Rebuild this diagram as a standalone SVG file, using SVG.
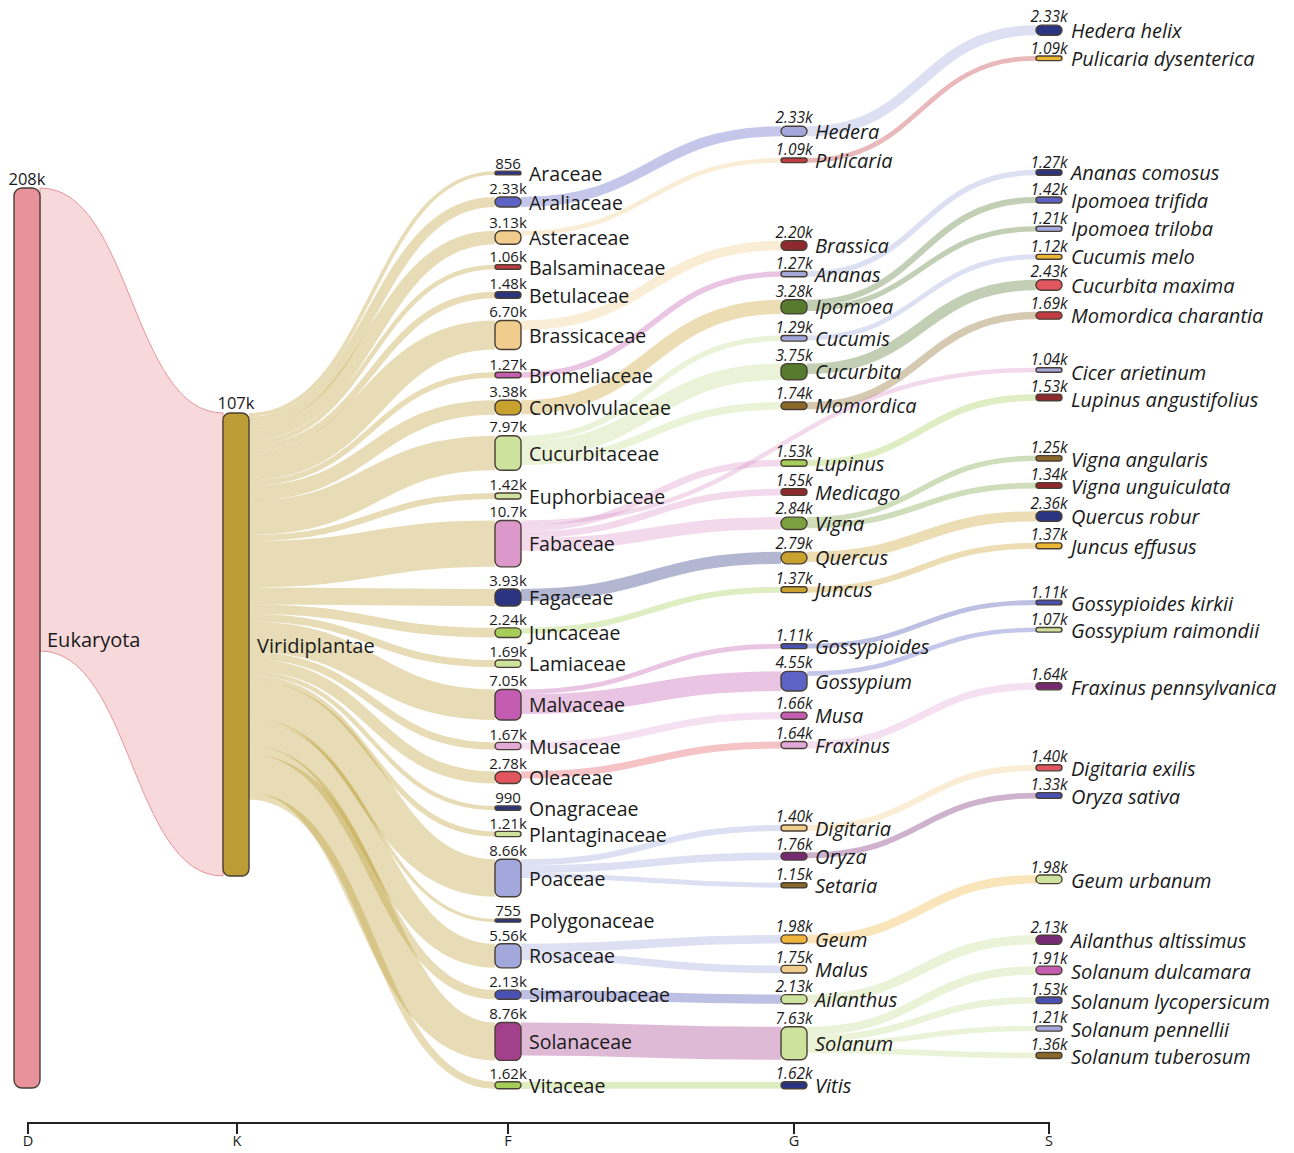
<svg xmlns="http://www.w3.org/2000/svg" width="1294" height="1153" viewBox="0 0 1294 1153">
<style>
text{font-family:"Open Sans","Noto Sans","Liberation Sans",sans-serif;fill:#1a1a1a}
.nd{stroke:#4a3f35;stroke-width:1.4}
.lk{fill:none;stroke-opacity:.36}
.lkf{fill-opacity:.35;stroke:none}
.val{font-size:15px;text-anchor:middle}
.vi{font-size:15.5px;font-style:italic;text-anchor:middle}
.nm{font-size:19.5px;dominant-baseline:central}
.ni{font-size:20px;font-style:italic;dominant-baseline:central}
.ax{stroke:#222;stroke-width:2;fill:none}
.axl{font-size:14.5px;text-anchor:middle}
.f-eu{fill:#e8939b}.s-eu{stroke:#e8939b;fill:#e8939b}
.f-vi{fill:#bd9e36}.s-vi{stroke:#bd9e36}
.f-navy{fill:#2b3480}.s-navy{stroke:#2b3480}
.f-blue{fill:#4851b2}.s-blue{stroke:#4851b2}
.f-mblue{fill:#5c63c4}.s-mblue{stroke:#5c63c4}
.f-lav{fill:#a2a8dc}.s-lav{stroke:#a2a8dc}
.f-tan{fill:#f0cd8c}.s-tan{stroke:#f0cd8c}
.f-red{fill:#c23a42}.s-red{stroke:#c23a42}
.f-lred{fill:#e2555f}.s-lred{stroke:#e2555f}
.f-dred{fill:#8e2a2e}
.f-mag{fill:#c45db2}.s-mag{stroke:#c45db2}
.f-gold{fill:#c9a12f}.s-gold{stroke:#c9a12f}
.f-ygold{fill:#e9b731}
.f-orange{fill:#f0b43c}.s-orange{stroke:#f0b43c}
.f-lgreen{fill:#cde29c}.s-lgreen{stroke:#c5dc90}
.f-green{fill:#a6cc5a}.s-green{stroke:#a6cc5a}
.f-mgreen{fill:#7aa040}.s-mgreen{stroke:#7aa040}
.f-dgreen{fill:#567a2e}.s-dgreen{stroke:#567a2e}
.f-pink{fill:#dc97cb}.s-pink{stroke:#dc97cb}
.f-lpink{fill:#e3a9d8}.s-lpink{stroke:#e3a9d8}
.f-purple{fill:#a3408c}.s-purple{stroke:#a3408c}
.f-dpurple{fill:#762a74}.s-dpurple{stroke:#762a74}
.f-brown{fill:#8a682a}.s-brown{stroke:#8a682a}
</style>

<g id="links">
<path class="lkf s-eu" d="M40,188 C131.5,188 131.5,413 223,413 L223,876 C131.5,876 131.5,651 40,651 Z"/>
<!-- K to F -->
<g class="lk s-vi">
<path stroke-width="3.7" d="M249,414.85 C372,414.85 372,173 495,173"/>
<path stroke-width="10.08" d="M249,421.75 C372,421.75 372,202 495,202"/>
<path stroke-width="13.54" d="M249,433.55 C372,433.55 372,237.5 495,237.5"/>
<path stroke-width="4.59" d="M249,442.6 C372,442.6 372,267 495,267"/>
<path stroke-width="6.4" d="M249,448.1 C372,448.1 372,295 495,295"/>
<path stroke-width="28.99" d="M249,465.8 C372,465.8 372,335 495,335"/>
<path stroke-width="5.5" d="M249,483.05 C372,483.05 372,375 495,375"/>
<path stroke-width="14.63" d="M249,493.1 C372,493.1 372,407.5 495,407.5"/>
<path stroke-width="34.49" d="M249,517.65 C372,517.65 372,453 495,453"/>
<path stroke-width="6.14" d="M249,538 C372,538 372,496 495,496"/>
<path stroke-width="46.3" d="M249,564.25 C372,564.25 372,543.7 495,543.7"/>
<path stroke-width="17" d="M249,595.9 C372,595.9 372,597.5 495,597.5"/>
<path stroke-width="9.69" d="M249,609.25 C372,609.25 372,632.7 495,632.7"/>
<path stroke-width="7.31" d="M249,617.75 C372,617.75 372,663.7 495,663.7"/>
<path stroke-width="30.51" d="M249,636.65 C372,636.65 372,704.7 495,704.7"/>
<path stroke-width="7.23" d="M249,655.5 C372,655.5 372,746 495,746"/>
<path stroke-width="12.03" d="M249,665.1 C372,665.1 372,777.5 495,777.5"/>
<path stroke-width="4.28" d="M249,673.25 C372,673.25 372,808 495,808"/>
<path stroke-width="5.24" d="M249,678.05 C372,678.05 372,834 495,834"/>
<path stroke-width="37.47" d="M249,699.4 C372,699.4 372,878 495,878"/>
<path stroke-width="3.27" d="M249,719.75 C372,719.75 372,920.5 495,920.5"/>
<path stroke-width="24.06" d="M249,733.45 C372,733.45 372,955.8 495,955.8"/>
<path stroke-width="9.22" d="M249,750.1 C372,750.1 372,994.7 495,994.7"/>
<path stroke-width="37.91" d="M249,773.65 C372,773.65 372,1041.5 495,1041.5"/>
<path stroke-width="7.01" d="M249,796.1 C372,796.1 372,1085.3 495,1085.3"/>
</g>
<!-- F to G -->
<path class="lk s-mblue" stroke-width="10.08" d="M521,202 C651,202 651,131.3 781,131.3"/>
<path class="lk s-tan" stroke-width="4.72" d="M521,233.09 C651,233.09 651,160.3 781,160.3"/>
<path class="lk s-tan" stroke-width="9.52" d="M521,325.26 C651,325.26 651,245.5 781,245.5"/>
<path class="lk s-mag" stroke-width="5.5" d="M521,375 C651,375 651,274 781,274"/>
<path class="lk s-gold" stroke-width="14.19" d="M521,407.3 C651,407.3 651,306.8 781,306.8"/>
<path class="lk s-lgreen" stroke-width="5.58" d="M521,438.54 C651,438.54 651,338.3 781,338.3"/>
<path class="lk s-lgreen" stroke-width="16.23" d="M521,449.45 C651,449.45 651,371.7 781,371.7"/>
<path class="lk s-lgreen" stroke-width="7.53" d="M521,461.33 C651,461.33 651,405.8 781,405.8"/>
<path class="lk s-pink" stroke-width="4.5" d="M521,522.8 C778.5,522.8 778.5,370 1036,370"/>
<path class="lk s-pink" stroke-width="6.62" d="M521,528.36 C651,528.36 651,463 781,463"/>
<path class="lk s-pink" stroke-width="6.71" d="M521,535.03 C651,535.03 651,492 781,492"/>
<path class="lk s-pink" stroke-width="12.29" d="M521,544.53 C651,544.53 651,523.3 781,523.3"/>
<path class="lk s-navy" stroke-width="12.07" d="M521,595.04 C651,595.04 651,557.8 781,557.8"/>
<path class="lk s-green" stroke-width="5.93" d="M521,630.82 C651,630.82 651,589.7 781,589.7"/>
<path class="lk s-mag" stroke-width="4.8" d="M521,691.85 C651,691.85 651,646.2 781,646.2"/>
<path class="lk s-mag" stroke-width="19.69" d="M521,704.1 C651,704.1 651,681.2 781,681.2"/>
<path class="lk s-lpink" stroke-width="7.18" d="M521,745.99 C651,745.99 651,715.7 781,715.7"/>
<path class="lk s-lred" stroke-width="7.1" d="M521,775.05 C651,775.05 651,745 781,745"/>
<path class="lk s-lav" stroke-width="6.06" d="M521,862.33 C651,862.33 651,828 781,828"/>
<path class="lk s-lav" stroke-width="7.62" d="M521,869.17 C651,869.17 651,856.3 781,856.3"/>
<path class="lk s-lav" stroke-width="4.98" d="M521,875.47 C651,875.47 651,885.2 781,885.2"/>
<path class="lk s-lav" stroke-width="8.57" d="M521,948.09 C651,948.09 651,939.2 781,939.2"/>
<path class="lk s-lav" stroke-width="7.57" d="M521,956.16 C651,956.16 651,969.2 781,969.2"/>
<path class="lk s-blue" stroke-width="9.22" d="M521,994.71 C651,994.71 651,999.2 781,999.2"/>
<path class="lk s-purple" stroke-width="33.02" d="M521,1039.01 C651,1039.01 651,1043.3 781,1043.3"/>
<path class="lk s-green" stroke-width="7.01" d="M521,1085.3 C651,1085.3 651,1085.3 781,1085.3"/>
<!-- G to S -->
<path class="lk s-lav" stroke-width="10.08" d="M807,131.3 C921.5,131.3 921.5,30.2 1036,30.2"/>
<path class="lk s-red" stroke-width="4.72" d="M807,160.3 C921.5,160.3 921.5,58.3 1036,58.3"/>
<path class="lk s-lav" stroke-width="5.5" d="M807,274 C921.5,274 921.5,172.5 1036,172.5"/>
<path class="lk s-dgreen" stroke-width="6.14" d="M807,302.77 C921.5,302.77 921.5,200 1036,200"/>
<path class="lk s-dgreen" stroke-width="5.24" d="M807,308.46 C921.5,308.46 921.5,228.8 1036,228.8"/>
<path class="lk s-lav" stroke-width="4.85" d="M807,337.94 C921.5,337.94 921.5,256.8 1036,256.8"/>
<path class="lk s-dgreen" stroke-width="10.51" d="M807,368.85 C921.5,368.85 921.5,285 1036,285"/>
<path class="lk s-brown" stroke-width="7.31" d="M807,405.7 C921.5,405.7 921.5,315.5 1036,315.5"/>
<path class="lk s-green" stroke-width="6.62" d="M807,463 C921.5,463 921.5,397.5 1036,397.5"/>
<path class="lk s-mgreen" stroke-width="5.41" d="M807,519.87 C921.5,519.87 921.5,458.3 1036,458.3"/>
<path class="lk s-mgreen" stroke-width="5.8" d="M807,525.47 C921.5,525.47 921.5,485.5 1036,485.5"/>
<path class="lk s-gold" stroke-width="10.21" d="M807,556.88 C921.5,556.88 921.5,516.3 1036,516.3"/>
<path class="lk s-gold" stroke-width="5.93" d="M807,589.7 C921.5,589.7 921.5,545.8 1036,545.8"/>
<path class="lk s-blue" stroke-width="4.8" d="M807,646.2 C921.5,646.2 921.5,602.5 1036,602.5"/>
<path class="lk s-mblue" stroke-width="4.63" d="M807,673.68 C921.5,673.68 921.5,629.8 1036,629.8"/>
<path class="lk s-lpink" stroke-width="7.1" d="M807,745 C921.5,745 921.5,686.3 1036,686.3"/>
<path class="lk s-tan" stroke-width="6.06" d="M807,828 C921.5,828 921.5,767.8 1036,767.8"/>
<path class="lk s-dpurple" stroke-width="5.75" d="M807,855.37 C921.5,855.37 921.5,795.5 1036,795.5"/>
<path class="lk s-orange" stroke-width="8.57" d="M807,939.2 C921.5,939.2 921.5,879.3 1036,879.3"/>
<path class="lk s-lgreen" stroke-width="9.22" d="M807,999.2 C921.5,999.2 921.5,939.7 1036,939.7"/>
<path class="lk s-lgreen" stroke-width="8.26" d="M807,1030.92 C921.5,1030.92 921.5,970.3 1036,970.3"/>
<path class="lk s-lgreen" stroke-width="6.62" d="M807,1038.36 C921.5,1038.36 921.5,1000.3 1036,1000.3"/>
<path class="lk s-lgreen" stroke-width="5.24" d="M807,1044.29 C921.5,1044.29 921.5,1028.5 1036,1028.5"/>
<path class="lk s-lgreen" stroke-width="5.88" d="M807,1049.85 C921.5,1049.85 921.5,1055.5 1036,1055.5"/>
</g>

<!-- D and K -->
<g id="n-eukaryota"><rect class="nd f-eu" x="14" y="188" width="26" height="900" rx="8"/><text class="val" x="27" y="185" style="font-size:16.5px">208k</text><text class="nm" x="47" y="639" style="font-size:20px">Eukaryota</text></g>
<g id="n-viridiplantae"><rect class="nd f-vi" x="223" y="413" width="26" height="463" rx="7"/><text class="val" x="236" y="409" style="font-size:16.5px">107k</text><text class="nm" x="257" y="645" style="font-size:20px">Viridiplantae</text></g>

<!-- F -->
<g id="n-araceae"><rect class="nd f-navy" x="495" y="171.15" width="26" height="3.7" rx="1.85"/><text class="val" x="508" y="168.5">856</text><text class="nm" x="529" y="173">Araceae</text></g>
<g id="n-araliaceae"><rect class="nd f-mblue" x="495" y="196.96" width="26" height="10.08" rx="5"/><text class="val" x="508" y="194">2.33k</text><text class="nm" x="529" y="202">Araliaceae</text></g>
<g id="n-asteraceae"><rect class="nd f-tan" x="495" y="230.73" width="26" height="13.54" rx="6"/><text class="val" x="508" y="227.5">3.13k</text><text class="nm" x="529" y="237.5">Asteraceae</text></g>
<g id="n-balsaminaceae"><rect class="nd f-red" x="495" y="264.7" width="26" height="4.59" rx="2.3"/><text class="val" x="508" y="262">1.06k</text><text class="nm" x="529" y="267">Balsaminaceae</text></g>
<g id="n-betulaceae"><rect class="nd f-navy" x="495" y="291.8" width="26" height="6.4" rx="3.2"/><text class="val" x="508" y="289">1.48k</text><text class="nm" x="529" y="295">Betulaceae</text></g>
<g id="n-brassicaceae"><rect class="nd f-tan" x="495" y="320.5" width="26" height="28.99" rx="6"/><text class="val" x="508" y="317">6.70k</text><text class="nm" x="529" y="335">Brassicaceae</text></g>
<g id="n-bromeliaceae"><rect class="nd f-mag" x="495" y="372.25" width="26" height="5.5" rx="2.75"/><text class="val" x="508" y="369.5">1.27k</text><text class="nm" x="529" y="375">Bromeliaceae</text></g>
<g id="n-convolvulaceae"><rect class="nd f-gold" x="495" y="400.2" width="26" height="14.63" rx="6"/><text class="val" x="508" y="397">3.38k</text><text class="nm" x="529" y="407.5">Convolvulaceae</text></g>
<g id="n-cucurbitaceae"><rect class="nd f-lgreen" x="495" y="435.75" width="26" height="34.49" rx="6"/><text class="val" x="508" y="432">7.97k</text><text class="nm" x="529" y="453">Cucurbitaceae</text></g>
<g id="n-euphorbiaceae"><rect class="nd f-lgreen" x="495" y="492.93" width="26" height="6.14" rx="3"/><text class="val" x="508" y="490">1.42k</text><text class="nm" x="529" y="496">Euphorbiaceae</text></g>
<g id="n-fabaceae"><rect class="nd f-pink" x="495" y="520.55" width="26" height="46.3" rx="6"/><text class="val" x="508" y="517">10.7k</text><text class="nm" x="529" y="543.7">Fabaceae</text></g>
<g id="n-fagaceae"><rect class="nd f-navy" x="495" y="589" width="26" height="17" rx="6"/><text class="val" x="508" y="586">3.93k</text><text class="nm" x="529" y="597.5">Fagaceae</text></g>
<g id="n-juncaceae"><rect class="nd f-green" x="495" y="627.85" width="26" height="9.69" rx="4.8"/><text class="val" x="508" y="625">2.24k</text><text class="nm" x="529" y="632.7">Juncaceae</text></g>
<g id="n-lamiaceae"><rect class="nd f-lgreen" x="495" y="660.05" width="26" height="7.31" rx="3.6"/><text class="val" x="508" y="657">1.69k</text><text class="nm" x="529" y="663.7">Lamiaceae</text></g>
<g id="n-malvaceae"><rect class="nd f-mag" x="495" y="689.45" width="26" height="30.51" rx="6"/><text class="val" x="508" y="686">7.05k</text><text class="nm" x="529" y="704.7">Malvaceae</text></g>
<g id="n-musaceae"><rect class="nd f-lpink" x="495" y="742.4" width="26" height="7.23" rx="3.6"/><text class="val" x="508" y="739.5">1.67k</text><text class="nm" x="529" y="746">Musaceae</text></g>
<g id="n-oleaceae"><rect class="nd f-lred" x="495" y="771.5" width="26" height="12.03" rx="6"/><text class="val" x="508" y="768.5">2.78k</text><text class="nm" x="529" y="777.5">Oleaceae</text></g>
<g id="n-onagraceae"><rect class="nd f-navy" x="495" y="805.9" width="26" height="4.28" rx="2.1"/><text class="val" x="508" y="803">990</text><text class="nm" x="529" y="808">Onagraceae</text></g>
<g id="n-plantaginaceae"><rect class="nd f-lgreen" x="495" y="831.4" width="26" height="5.24" rx="2.6"/><text class="val" x="508" y="829">1.21k</text><text class="nm" x="529" y="834">Plantaginaceae</text></g>
<g id="n-poaceae"><rect class="nd f-lav" x="495" y="859.3" width="26" height="37.47" rx="6"/><text class="val" x="508" y="856">8.66k</text><text class="nm" x="529" y="878">Poaceae</text></g>
<g id="n-polygonaceae"><rect class="nd f-navy" x="495" y="918.9" width="26" height="3.27" rx="1.6"/><text class="val" x="508" y="916">755</text><text class="nm" x="529" y="920.5">Polygonaceae</text></g>
<g id="n-rosaceae"><rect class="nd f-lav" x="495" y="943.8" width="26" height="24.06" rx="6"/><text class="val" x="508" y="940.5">5.56k</text><text class="nm" x="529" y="955.8">Rosaceae</text></g>
<g id="n-simaroubaceae"><rect class="nd f-blue" x="495" y="990.1" width="26" height="9.22" rx="4.6"/><text class="val" x="508" y="987">2.13k</text><text class="nm" x="529" y="994.7">Simaroubaceae</text></g>
<g id="n-solanaceae"><rect class="nd f-purple" x="495" y="1022.5" width="26" height="37.91" rx="6"/><text class="val" x="508" y="1019">8.76k</text><text class="nm" x="529" y="1041.5">Solanaceae</text></g>
<g id="n-vitaceae"><rect class="nd f-green" x="495" y="1081.8" width="26" height="7.01" rx="3.5"/><text class="val" x="508" y="1079">1.62k</text><text class="nm" x="529" y="1085.3">Vitaceae</text></g>

<!-- G -->
<g id="n-hedera"><rect class="nd f-lav" x="781" y="126.26" width="26" height="10.08" rx="5"/><text class="vi" x="794" y="123">2.33k</text><text class="ni" x="815" y="131.3">Hedera</text></g>
<g id="n-pulicaria"><rect class="nd f-red" x="781" y="157.94" width="26" height="4.72" rx="2.3"/><text class="vi" x="794" y="155">1.09k</text><text class="ni" x="815" y="160.3">Pulicaria</text></g>
<g id="n-brassica"><rect class="nd f-dred" x="781" y="240.74" width="26" height="9.52" rx="4.7"/><text class="vi" x="794" y="237.5">2.20k</text><text class="ni" x="815" y="245.5">Brassica</text></g>
<g id="n-ananas"><rect class="nd f-lav" x="781" y="271.25" width="26" height="5.5" rx="2.7"/><text class="vi" x="794" y="268.5">1.27k</text><text class="ni" x="815" y="274">Ananas</text></g>
<g id="n-ipomoea"><rect class="nd f-dgreen" x="781" y="299.7" width="26" height="14.19" rx="6"/><text class="vi" x="794" y="296.5">3.28k</text><text class="ni" x="815" y="306.8">Ipomoea</text></g>
<g id="n-cucumis"><rect class="nd f-lav" x="781" y="335.51" width="26" height="5.58" rx="2.8"/><text class="vi" x="794" y="332.5">1.29k</text><text class="ni" x="815" y="338.3">Cucumis</text></g>
<g id="n-cucurbita"><rect class="nd f-dgreen" x="781" y="363.59" width="26" height="16.23" rx="6"/><text class="vi" x="794" y="360.5">3.75k</text><text class="ni" x="815" y="371.7">Cucurbita</text></g>
<g id="n-momordica"><rect class="nd f-brown" x="781" y="402.04" width="26" height="7.53" rx="3.7"/><text class="vi" x="794" y="399">1.74k</text><text class="ni" x="815" y="405.8">Momordica</text></g>
<g id="n-lupinus"><rect class="nd f-green" x="781" y="459.69" width="26" height="6.62" rx="3.3"/><text class="vi" x="794" y="456.5">1.53k</text><text class="ni" x="815" y="463">Lupinus</text></g>
<g id="n-medicago"><rect class="nd f-dred" x="781" y="488.65" width="26" height="6.71" rx="3.3"/><text class="vi" x="794" y="485.5">1.55k</text><text class="ni" x="815" y="492">Medicago</text></g>
<g id="n-vigna"><rect class="nd f-mgreen" x="781" y="517.16" width="26" height="12.29" rx="6"/><text class="vi" x="794" y="514">2.84k</text><text class="ni" x="815" y="523.3">Vigna</text></g>
<g id="n-quercus"><rect class="nd f-gold" x="781" y="551.77" width="26" height="12.07" rx="6"/><text class="vi" x="794" y="548.5">2.79k</text><text class="ni" x="815" y="557.8">Quercus</text></g>
<g id="n-juncus"><rect class="nd f-gold" x="781" y="586.74" width="26" height="5.93" rx="2.9"/><text class="vi" x="794" y="583.5">1.37k</text><text class="ni" x="815" y="589.7">Juncus</text></g>
<g id="n-gossypioides"><rect class="nd f-blue" x="781" y="643.8" width="26" height="4.8" rx="2.4"/><text class="vi" x="794" y="641">1.11k</text><text class="ni" x="815" y="646.2">Gossypioides</text></g>
<g id="n-gossypium"><rect class="nd f-mblue" x="781" y="671.36" width="26" height="19.69" rx="6"/><text class="vi" x="794" y="668">4.55k</text><text class="ni" x="815" y="681.2">Gossypium</text></g>
<g id="n-musa"><rect class="nd f-mag" x="781" y="712.11" width="26" height="7.18" rx="3.5"/><text class="vi" x="794" y="709">1.66k</text><text class="ni" x="815" y="715.7">Musa</text></g>
<g id="n-fraxinus"><rect class="nd f-lpink" x="781" y="741.45" width="26" height="7.1" rx="3.5"/><text class="vi" x="794" y="738.5">1.64k</text><text class="ni" x="815" y="745">Fraxinus</text></g>
<g id="n-digitaria"><rect class="nd f-tan" x="781" y="824.97" width="26" height="6.06" rx="3"/><text class="vi" x="794" y="822">1.40k</text><text class="ni" x="815" y="828">Digitaria</text></g>
<g id="n-oryza"><rect class="nd f-dpurple" x="781" y="852.49" width="26" height="7.62" rx="3.8"/><text class="vi" x="794" y="849.5">1.76k</text><text class="ni" x="815" y="856.3">Oryza</text></g>
<g id="n-setaria"><rect class="nd f-brown" x="781" y="882.71" width="26" height="4.98" rx="2.5"/><text class="vi" x="794" y="880">1.15k</text><text class="ni" x="815" y="885.2">Setaria</text></g>
<g id="n-geum"><rect class="nd f-orange" x="781" y="934.92" width="26" height="8.57" rx="4.2"/><text class="vi" x="794" y="932">1.98k</text><text class="ni" x="815" y="939.2">Geum</text></g>
<g id="n-malus"><rect class="nd f-tan" x="781" y="965.41" width="26" height="7.57" rx="3.7"/><text class="vi" x="794" y="962.5">1.75k</text><text class="ni" x="815" y="969.2">Malus</text></g>
<g id="n-ailanthus"><rect class="nd f-lgreen" x="781" y="994.59" width="26" height="9.22" rx="4.6"/><text class="vi" x="794" y="991.5">2.13k</text><text class="ni" x="815" y="999.2">Ailanthus</text></g>
<g id="n-solanum"><rect class="nd f-lgreen" x="781" y="1026.79" width="26" height="33.02" rx="6"/><text class="vi" x="794" y="1023.5">7.63k</text><text class="ni" x="815" y="1043.3">Solanum</text></g>
<g id="n-vitis"><rect class="nd f-navy" x="781" y="1081.8" width="26" height="7.01" rx="3.5"/><text class="vi" x="794" y="1079">1.62k</text><text class="ni" x="815" y="1085.3">Vitis</text></g>

<!-- S -->
<g id="n-hedera-helix"><rect class="nd f-navy" x="1036" y="25.16" width="26" height="10.08" rx="5"/><text class="vi" x="1049" y="22">2.33k</text><text class="ni" x="1071" y="30.2">Hedera helix</text></g>
<g id="n-pulicaria-dysenterica"><rect class="nd f-ygold" x="1036" y="55.94" width="26" height="4.72" rx="2.3"/><text class="vi" x="1049" y="53.5">1.09k</text><text class="ni" x="1071" y="58.3">Pulicaria dysenterica</text></g>
<g id="n-ananas-comosus"><rect class="nd f-navy" x="1036" y="169.75" width="26" height="5.5" rx="2.7"/><text class="vi" x="1049" y="167.5">1.27k</text><text class="ni" x="1071" y="172.5">Ananas comosus</text></g>
<g id="n-ipomoea-trifida"><rect class="nd f-mblue" x="1036" y="196.93" width="26" height="6.14" rx="3"/><text class="vi" x="1049" y="194.5">1.42k</text><text class="ni" x="1071" y="200">Ipomoea trifida</text></g>
<g id="n-ipomoea-triloba"><rect class="nd f-lav" x="1036" y="226.18" width="26" height="5.24" rx="2.6"/><text class="vi" x="1049" y="223.8">1.21k</text><text class="ni" x="1071" y="228.8">Ipomoea triloba</text></g>
<g id="n-cucumis-melo"><rect class="nd f-ygold" x="1036" y="254.38" width="26" height="4.85" rx="2.4"/><text class="vi" x="1049" y="252">1.12k</text><text class="ni" x="1071" y="256.8">Cucumis melo</text></g>
<g id="n-cucurbita-maxima"><rect class="nd f-lred" x="1036" y="279.74" width="26" height="10.51" rx="5"/><text class="vi" x="1049" y="277">2.43k</text><text class="ni" x="1071" y="285">Cucurbita maxima</text></g>
<g id="n-momordica-charantia"><rect class="nd f-red" x="1036" y="311.84" width="26" height="7.31" rx="3.6"/><text class="vi" x="1049" y="309.3">1.69k</text><text class="ni" x="1071" y="315.5">Momordica charantia</text></g>
<g id="n-cicer-arietinum"><rect class="nd f-lav" x="1036" y="367.75" width="26" height="4.5" rx="2.2"/><text class="vi" x="1049" y="365.3">1.04k</text><text class="ni" x="1071" y="372">Cicer arietinum</text></g>
<g id="n-lupinus-angustifolius"><rect class="nd f-dred" x="1036" y="394.19" width="26" height="6.62" rx="3.3"/><text class="vi" x="1049" y="391.7">1.53k</text><text class="ni" x="1071" y="399">Lupinus angustifolius</text></g>
<g id="n-vigna-angularis"><rect class="nd f-brown" x="1036" y="455.6" width="26" height="5.41" rx="2.7"/><text class="vi" x="1049" y="453.3">1.25k</text><text class="ni" x="1071" y="459">Vigna angularis</text></g>
<g id="n-vigna-unguiculata"><rect class="nd f-dred" x="1036" y="482.6" width="26" height="5.8" rx="2.9"/><text class="vi" x="1049" y="480.2">1.34k</text><text class="ni" x="1071" y="486.5">Vigna unguiculata</text></g>
<g id="n-quercus-robur"><rect class="nd f-navy" x="1036" y="511.2" width="26" height="10.21" rx="5"/><text class="vi" x="1049" y="508.7">2.36k</text><text class="ni" x="1071" y="516.3">Quercus robur</text></g>
<g id="n-juncus-effusus"><rect class="nd f-ygold" x="1036" y="542.84" width="26" height="5.93" rx="2.9"/><text class="vi" x="1049" y="540.4">1.37k</text><text class="ni" x="1071" y="546.3">Juncus effusus</text></g>
<g id="n-gossypioides-kirkii"><rect class="nd f-blue" x="1036" y="600.1" width="26" height="4.8" rx="2.4"/><text class="vi" x="1049" y="597.7">1.11k</text><text class="ni" x="1071" y="603.5">Gossypioides kirkii</text></g>
<g id="n-gossypium-raimondii"><rect class="nd f-lgreen" x="1036" y="627.49" width="26" height="4.63" rx="2.3"/><text class="vi" x="1049" y="625">1.07k</text><text class="ni" x="1071" y="630.8">Gossypium raimondii</text></g>
<g id="n-fraxinus-pennsylvanica"><rect class="nd f-dpurple" x="1036" y="682.75" width="26" height="7.1" rx="3.5"/><text class="vi" x="1049" y="680.3">1.64k</text><text class="ni" x="1071" y="687.3">Fraxinus pennsylvanica</text></g>
<g id="n-digitaria-exilis"><rect class="nd f-lred" x="1036" y="764.77" width="26" height="6.06" rx="3"/><text class="vi" x="1049" y="762.3">1.40k</text><text class="ni" x="1071" y="768.8">Digitaria exilis</text></g>
<g id="n-oryza-sativa"><rect class="nd f-blue" x="1036" y="792.62" width="26" height="5.75" rx="2.8"/><text class="vi" x="1049" y="790.2">1.33k</text><text class="ni" x="1071" y="796.5">Oryza sativa</text></g>
<g id="n-geum-urbanum"><rect class="nd f-lgreen" x="1036" y="875.02" width="26" height="8.57" rx="4.2"/><text class="vi" x="1049" y="872.5">1.98k</text><text class="ni" x="1071" y="880">Geum urbanum</text></g>
<g id="n-ailanthus-altissimus"><rect class="nd f-dpurple" x="1036" y="935.09" width="26" height="9.22" rx="4.6"/><text class="vi" x="1049" y="932.6">2.13k</text><text class="ni" x="1071" y="940.5">Ailanthus altissimus</text></g>
<g id="n-solanum-dulcamara"><rect class="nd f-mag" x="1036" y="966.17" width="26" height="8.26" rx="4.1"/><text class="vi" x="1049" y="963.7">1.91k</text><text class="ni" x="1071" y="971">Solanum dulcamara</text></g>
<g id="n-solanum-lycopersicum"><rect class="nd f-blue" x="1036" y="996.99" width="26" height="6.62" rx="3.3"/><text class="vi" x="1049" y="994.5">1.53k</text><text class="ni" x="1071" y="1001">Solanum lycopersicum</text></g>
<g id="n-solanum-pennellii"><rect class="nd f-lav" x="1036" y="1025.88" width="26" height="5.24" rx="2.6"/><text class="vi" x="1049" y="1023.4">1.21k</text><text class="ni" x="1071" y="1029">Solanum pennellii</text></g>
<g id="n-solanum-tuberosum"><rect class="nd f-brown" x="1036" y="1052.56" width="26" height="5.88" rx="2.9"/><text class="vi" x="1049" y="1050">1.36k</text><text class="ni" x="1071" y="1056">Solanum tuberosum</text></g>

<!-- axis -->
<g id="axis">
<path class="ax" d="M28,1123 H1049 M28,1122 V1134 M237,1122 V1134 M508,1122 V1134 M794,1122 V1134 M1049,1122 V1134"/>
<text class="axl" x="28" y="1146">D</text>
<text class="axl" x="237" y="1146">K</text>
<text class="axl" x="508" y="1146">F</text>
<text class="axl" x="794" y="1146">G</text>
<text class="axl" x="1049" y="1146">S</text>
</g>
</svg>
